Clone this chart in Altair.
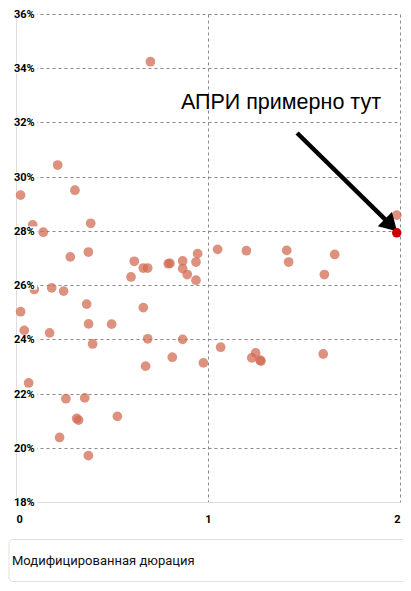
import altair as alt
import pandas as pd

# Modified duration (x) and yield, % (y)
dur = [0.70, 0.024, 0.217, 0.307, 0.087, 0.142, 0.389, 0.283, 0.377, 0.616,
       0.599, 0.663, 0.686, 0.793, 0.802, 0.868, 0.868, 0.892, 0.9375, 0.9375,
       0.946, 0.095, 0.186, 0.248, 0.024, 0.368, 0.663, 0.043, 0.175, 0.378,
       0.498, 0.399, 0.686, 0.868, 0.814, 0.675, 0.976, 0.066, 0.260, 0.358,
       0.316, 0.326, 0.528, 0.227, 0.377, 1.983, 1.05, 1.20, 1.41, 1.42,
       1.66, 1.606, 1.066, 1.248, 1.228, 1.271, 1.276, 1.60]
ytm = [34.24, 29.32, 30.43, 29.50, 28.22, 27.95, 28.28, 27.04, 27.22, 26.88,
       26.30, 26.63, 26.63, 26.79, 26.80, 26.89, 26.61, 26.39, 26.85, 26.18,
       27.16, 25.84, 25.90, 25.78, 25.02, 25.30, 25.17, 24.33, 24.24, 24.57,
       24.56, 23.83, 24.02, 24.00, 23.34, 23.01, 23.13, 22.39, 21.81, 21.84,
       21.08, 21.02, 21.16, 20.38, 19.71, 28.58, 27.32, 27.27, 27.28, 26.85,
       27.13, 26.39, 23.71, 23.50, 23.32, 23.23, 23.20, 23.46]

apri_dur = [1.983]
apri_ytm = [27.93]

y_ticks = [18, 20, 22, 24, 26, 28, 30, 32, 34, 36]
x_ticks = [0, 1, 2]

ann_text = ["АПРИ примерно тут"]
ann_x = [1.38]
ann_y = [32.71]
arrow_x = [1.464]
arrow_y = [31.61]
arrow_x2 = [1.953]
arrow_y2 = [28.21]

x_title = ["Модифицированная дюрация"]

df = pd.DataFrame({"dur": dur, "ytm": [v / 100 for v in ytm]})
df_apri = pd.DataFrame({"dur": apri_dur, "ytm": [v / 100 for v in apri_ytm]})
df_yt = pd.DataFrame({"v": [v / 100 for v in y_ticks]})
df_ann = pd.DataFrame({"x": ann_x, "y": [v / 100 for v in ann_y], "t": ann_text})
df_arrow = pd.DataFrame({"x": arrow_x, "y": [v / 100 for v in arrow_y],
                         "x2": arrow_x2, "y2": [v / 100 for v in arrow_y2]})
df_title = pd.DataFrame({"t": x_title})

xs = alt.Scale(domain=[0, 2], nice=False, zero=False)
ys = alt.Scale(domain=[0.18, 0.36], nice=False, zero=False)

x_axis = alt.Axis(values=x_ticks, format=".0f", grid=True, gridDash=[3, 3],
                  gridColor="#8a8a8a", domainColor="#dddddd", ticks=False,
                  tickSize=0, labelPadding=11, labelFont="Roboto",
                  labelFontWeight="bold", labelFontSize=11, labelColor="#000000",
                  title=None, labelFlush=True)
y_axis = alt.Axis(values=[v / 100 for v in y_ticks], grid=True, gridDash=[3, 3],
                  gridColor="#8a8a8a", domainColor="#dddddd", ticks=False,
                  tickSize=0, labels=False, title=None)

points = alt.Chart(df).mark_circle(size=95, color="#d0684f", opacity=0.72).encode(
    x=alt.X("dur:Q", scale=xs, axis=x_axis),
    y=alt.Y("ytm:Q", scale=ys, axis=y_axis),
)

label_bg = alt.Chart(df_yt).mark_rule(color="white", strokeWidth=9).encode(
    y=alt.Y("v:Q", scale=ys), x=alt.value(-3), x2=alt.value(21)
)
label_txt = alt.Chart(df_yt).mark_text(
    align="left", baseline="middle", font="Roboto", fontWeight="bold",
    fontSize=11, color="#000000", dy=1
).encode(
    y=alt.Y("v:Q", scale=ys), x=alt.value(-2), text=alt.Text("v:Q", format=".0%")
)

ann = alt.Chart(df_ann).mark_text(
    font="Liberation Sans", fontSize=21.5, color="#000000", align="center", baseline="middle"
).encode(x=alt.X("x:Q", scale=xs), y=alt.Y("y:Q", scale=ys), text="t:N")

arrow_line = alt.Chart(df_arrow).mark_rule(color="#000000", strokeWidth=4.5).encode(
    x=alt.X("x:Q", scale=xs), y=alt.Y("y:Q", scale=ys), x2="x2:Q", y2="y2:Q"
)
arrow_head = alt.Chart(df_arrow).mark_point(
    shape="triangle-up", filled=True, size=400, angle=135, color="#000000", opacity=1
).encode(x=alt.X("x2:Q", scale=xs), y=alt.Y("y2:Q", scale=ys))

apri = alt.Chart(df_apri).mark_circle(size=90, color="#c80000", opacity=1).encode(
    x=alt.X("dur:Q", scale=xs), y=alt.Y("ytm:Q", scale=ys)
)

box = alt.Chart(df_title).mark_rect(
    fill="white", stroke="#e0e0e0", strokeWidth=1, cornerRadius=4
).encode(x=alt.value(-7), x2=alt.value(392), y=alt.value(525.5), y2=alt.value(567.5))
box_txt = alt.Chart(df_title).mark_text(
    align="left", baseline="middle", font="Roboto", fontSize=13, color="#111111"
).encode(x=alt.value(-4), y=alt.value(547), text="t:N")

chart = alt.layer(
    points, label_bg, label_txt, ann, arrow_line, arrow_head, apri, box, box_txt
).properties(
    width=384, height=488,
    autosize=alt.AutoSizeParams(type="none"),
    padding={"left": 8, "top": 6, "right": 3, "bottom": 81},
    background="white",
).configure_view(stroke=None)

chart.save("out.html", embed_options={"renderer": "svg", "actions": False})
